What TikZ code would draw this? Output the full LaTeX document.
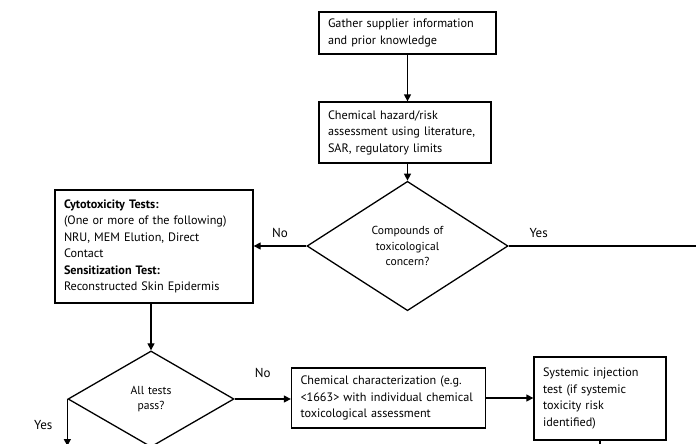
\documentclass[tikz,border=0pt]{standalone}
\usepackage{fontspec}
\setmainfont{PT Sans}
\usetikzlibrary{shapes.geometric,arrows.meta}

\begin{document}
\begin{tikzpicture}[x=1pt,y=-1pt,line width=1.3pt,
    box/.style={draw,rectangle,align=left,inner xsep=9pt,inner ysep=2pt,
      font=\fontsize{12.2}{16.5}\selectfont},
    question/.style={draw,diamond,align=center,inner sep=0pt,
      font=\fontsize{11.6}{15.5}\selectfont},
    flow/.style={-{Triangle[length=7pt,width=7pt]}},
    lbl/.style={font=\fontsize{13}{15}\selectfont}]
  \useasboundingbox (0,0) rectangle (696,444);
  % boxes and decisions
  \node[box,text width=159pt,minimum height=42pt] (gather) at (407.5,33)
    {Gather supplier information\\and prior knowledge};
  \node[box,text width=154pt,minimum height=61pt] (hazard) at (405,132.5)
    {Chemical hazard/risk\\assessment using literature,\\SAR, regulatory limits};
  \node[question,minimum width=201pt,minimum height=106pt,text width=90pt] (concern) at (407.5,246)
    {Compounds of\\toxicological\\concern?};
  \node[box,text width=180pt,minimum height=113pt] (tests) at (154,246.5)
    {\textbf{Cytotoxicity Tests:}\\(One or more of the following)\\NRU, MEM Elution, Direct\\Contact\\
     \textbf{Sensitization Test:}\\Reconstructed Skin Epidermis};
  \node[question,minimum width=166pt,minimum height=84pt,text width=70pt] (pass) at (151,399)
    {All tests\\pass?};
  \node[box,text width=176pt,minimum height=60pt] (charac) at (388.5,398)
    {Chemical characterization (e.g.\\<1663> with individual chemical\\toxicological assessment};
  \node[box,text width=114pt,minimum height=83pt] (systemic) at (600,398.5)
    {Systemic injection\\test (if systemic\\toxicity risk\\identified)};
  % loose ends
  \coordinate (yesend) at (696,246);
  \coordinate (passend) at (68,446);
  \coordinate (sysend) at (600,446);
  % connectors
  \draw[flow] (gather.south) -- (gather.south |- hazard.north);
  \draw[flow] (hazard.south -| concern.north) -- (concern.north);
  \draw[flow] (concern.west) -- (concern.west -| tests.east) node[lbl,midway,above=4pt]{No};
  \draw (concern.east) -- (yesend) node[lbl,pos=0.16,above=4pt]{Yes};
  \draw[flow] (tests.south -| pass.north) -- (pass.north);
  \draw[flow] (pass.west) -- (pass.west |- passend) node[lbl,pos=0.55,left=11pt]{Yes};
  \draw[flow] (pass.east) -- (pass.east -| charac.west) node[lbl,midway,above=17pt]{No};
  \draw[flow] (charac.east) -- (charac.east -| systemic.west);
  \draw (systemic.south) -- (sysend);
\end{tikzpicture}
\end{document}
